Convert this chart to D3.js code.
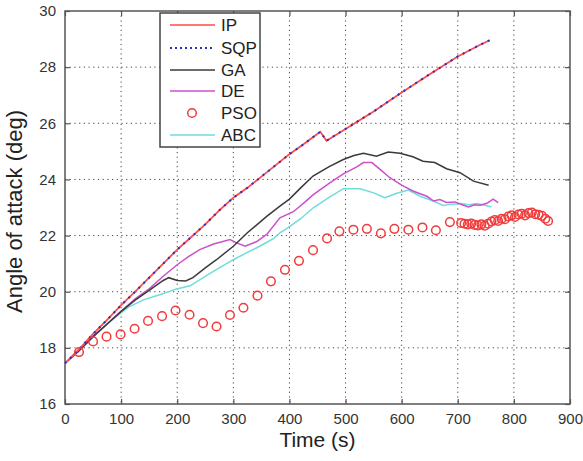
<!DOCTYPE html>
<html>
<head>
<meta charset="utf-8">
<script src="https://cdn.jsdelivr.net/npm/d3@7"></script>
<style>
  body { margin: 0; background: #fff; }
  svg { display: block; font-family: "Liberation Sans", Arial, sans-serif; }
</style>
</head>
<body>
<div id="chart"></div>
<script>
// series: time (s) and angle of attack (deg)
var ipTime  = [0, 25, 50, 75, 100, 125, 150, 175, 200, 225, 250, 275, 300, 325, 350, 375, 400, 425, 455, 466, 500, 550, 600, 650, 700, 740, 757];
var ipAngle = [17.45, 17.95, 18.5, 19.0, 19.52, 20.0, 20.5, 21.0, 21.5, 21.95, 22.4, 22.9, 23.35, 23.7, 24.1, 24.5, 24.9, 25.25, 25.7, 25.38, 25.8, 26.42, 27.1, 27.75, 28.38, 28.8, 28.96];

var sqpTime  = [0, 25, 50, 75, 100, 125, 150, 175, 200, 225, 250, 275, 300, 325, 350, 375, 400, 425, 455, 466, 500, 550, 600, 650, 700, 740, 757];
var sqpAngle = [17.45, 17.95, 18.5, 19.0, 19.52, 20.0, 20.5, 21.0, 21.5, 21.95, 22.4, 22.9, 23.35, 23.7, 24.1, 24.5, 24.9, 25.25, 25.7, 25.38, 25.8, 26.42, 27.1, 27.75, 28.38, 28.8, 28.96];

var gaTime  = [0, 25, 50, 75, 100, 125, 150, 175, 185, 200, 215, 228, 250, 270, 300, 325, 360, 383, 400, 420, 442, 470, 496, 515, 532, 555, 576, 597, 620, 638, 659, 680, 704, 728, 755];
var gaAngle = [17.45, 17.9, 18.4, 18.85, 19.3, 19.7, 20.05, 20.4, 20.5, 20.4, 20.38, 20.5, 20.85, 21.14, 21.62, 22.1, 22.69, 23.05, 23.3, 23.7, 24.12, 24.45, 24.71, 24.85, 24.93, 24.83, 24.98, 24.93, 24.81, 24.65, 24.6, 24.38, 24.24, 23.94, 23.79];

var deTime  = [0, 25, 50, 75, 100, 125, 150, 175, 200, 220, 240, 265, 294, 305, 321, 341, 360, 383, 407, 428, 442, 470, 496, 520, 532, 547, 562, 579, 600, 621, 645, 657, 668, 680, 695, 708, 719, 730, 740, 752, 763, 772];
var deAngle = [17.45, 17.9, 18.4, 18.85, 19.3, 19.75, 20.1, 20.55, 20.96, 21.25, 21.5, 21.7, 21.86, 21.75, 21.62, 21.78, 22.05, 22.63, 22.85, 23.2, 23.45, 23.85, 24.2, 24.45, 24.6, 24.6, 24.35, 24.06, 23.8, 23.58, 23.4, 23.23, 23.28, 23.18, 23.2, 23.1, 23.02, 23.1, 23.08, 23.15, 23.3, 23.17];

var abcTime  = [0, 25, 54, 84, 113, 140, 170, 199, 223, 252, 275, 300, 325, 347, 372, 383, 395, 420, 443, 470, 496, 526, 550, 570, 590, 612, 633, 656, 674, 690, 704, 720, 734, 748, 760];
var abcAngle = [17.45, 17.9, 18.46, 19.0, 19.45, 19.71, 19.9, 20.1, 20.21, 20.57, 20.85, 21.14, 21.4, 21.62, 21.9, 22.1, 22.25, 22.6, 23.0, 23.35, 23.67, 23.67, 23.52, 23.35, 23.5, 23.62, 23.4, 23.23, 23.07, 23.12, 23.14, 23.1, 23.14, 23.08, 23.02];

var psoTime  = [25, 50, 74, 99, 124, 148, 173, 197, 222, 246, 270, 294, 318, 343, 367, 392, 417, 442, 467, 489, 514, 538, 563, 587, 612, 637, 661, 686,
                706, 712, 718, 724, 730, 736, 742, 748, 754, 760, 766, 772, 778, 784, 790, 796, 802, 808, 814, 820, 826, 832, 838, 844, 850, 856, 861];
var psoAngle = [17.85, 18.23, 18.4, 18.48, 18.68, 18.96, 19.13, 19.33, 19.18, 18.88, 18.76, 19.17, 19.43, 19.86, 20.37, 20.78, 21.1, 21.48, 21.9, 22.15, 22.21, 22.24, 22.08, 22.24, 22.21, 22.29, 22.19, 22.48,
                22.45, 22.42, 22.4, 22.43, 22.38, 22.36, 22.4, 22.35, 22.42, 22.5, 22.55, 22.52, 22.6, 22.58, 22.68, 22.72, 22.66, 22.75, 22.78, 22.72, 22.8, 22.82, 22.76, 22.74, 22.7, 22.6, 22.52];

var xTicks = [0, 100, 200, 300, 400, 500, 600, 700, 800, 900];
var yTicks = [16, 18, 20, 22, 24, 26, 28, 30];
var legendNames = ["IP", "SQP", "GA", "DE", "PSO", "ABC"];

// set the dimensions and margins of the graph
var svgWidth = 583;
var svgHeight = 461;
var margin = { top: 11, right: 13, bottom: 57, left: 65 };
var width = svgWidth - margin.left - margin.right;
var height = svgHeight - margin.top - margin.bottom;

var svg = d3.select("#chart")
    .append("svg")
    .attr("width", svgWidth)
    .attr("height", svgHeight)
    .append("g")
    .attr("transform", "translate(" + margin.left + "," + margin.top + ")");

var x = d3.scaleLinear().domain([0, 900]).range([0, width]);
var y = d3.scaleLinear().domain([16, 30]).range([height, 0]);

var axisColor = "#555";

// dotted grid
svg.append("g")
    .selectAll("line")
    .data(xTicks.slice(1, -1))
    .enter()
    .append("line")
    .attr("x1", function (d) { return x(d); })
    .attr("x2", function (d) { return x(d); })
    .attr("y1", 0)
    .attr("y2", height)
    .attr("stroke", "#444")
    .attr("stroke-width", 1)
    .attr("stroke-dasharray", "1.2,3.5");

svg.append("g")
    .selectAll("line")
    .data(yTicks.slice(1, -1))
    .enter()
    .append("line")
    .attr("x1", 0)
    .attr("x2", width)
    .attr("y1", function (d) { return y(d); })
    .attr("y2", function (d) { return y(d); })
    .attr("stroke", "#444")
    .attr("stroke-width", 1)
    .attr("stroke-dasharray", "1.2,3.5");

// axes with inward ticks on all sides
function styleAxis(g) {
    g.select(".domain").remove();
    g.selectAll(".tick line").attr("stroke", axisColor).attr("stroke-width", 1.2);
    g.selectAll(".tick text")
        .attr("fill", "#333")
        .style("font-size", "15px")
        .style("font-family", "'Liberation Sans', Arial, sans-serif");
}

svg.append("g")
    .attr("transform", "translate(0," + height + ")")
    .call(d3.axisBottom(x).tickValues(xTicks).tickSize(-5).tickPadding(9))
    .call(styleAxis);

svg.append("g")
    .call(d3.axisTop(x).tickValues(xTicks).tickSize(-5).tickFormat(""))
    .call(styleAxis);

svg.append("g")
    .call(d3.axisLeft(y).tickValues(yTicks).tickSize(-5).tickPadding(9))
    .call(styleAxis);

svg.append("g")
    .attr("transform", "translate(" + width + ",0)")
    .call(d3.axisRight(y).tickValues(yTicks).tickSize(-5).tickFormat(""))
    .call(styleAxis);

// frame
svg.append("rect")
    .attr("width", width)
    .attr("height", height)
    .attr("fill", "none")
    .attr("stroke", axisColor)
    .attr("stroke-width", 1.5);

// axis titles
svg.append("text")
    .attr("x", width / 2)
    .attr("y", height + 43)
    .attr("text-anchor", "middle")
    .attr("fill", "#222")
    .style("font-size", "21px")
    .text("Time (s)");

svg.append("text")
    .attr("transform", "translate(" + (-43) + "," + (height / 2 + 4) + ") rotate(-90)")
    .attr("text-anchor", "middle")
    .attr("fill", "#222")
    .style("font-size", "22px")
    .text("Angle of attack (deg)");

// lines
function makeLine(t, a) {
    return d3.line()
        .x(function (d) { return x(t[d]); })
        .y(function (d) { return y(a[d]); })(d3.range(t.length));
}

var lines = svg.append("g");

lines.append("path")
    .attr("d", makeLine(abcTime, abcAngle))
    .attr("fill", "none").attr("stroke", "#6fdcdc").attr("stroke-width", 1.5);

lines.append("path")
    .attr("d", makeLine(deTime, deAngle))
    .attr("fill", "none").attr("stroke", "#cc4fcc").attr("stroke-width", 1.5);

lines.append("path")
    .attr("d", makeLine(gaTime, gaAngle))
    .attr("fill", "none").attr("stroke", "#3a3a3a").attr("stroke-width", 1.5);

lines.append("path")
    .attr("d", makeLine(ipTime, ipAngle))
    .attr("fill", "none").attr("stroke", "#ff4a4a").attr("stroke-width", 1.8);

lines.append("path")
    .attr("d", makeLine(sqpTime, sqpAngle))
    .attr("fill", "none").attr("stroke", "#2e2eb8").attr("stroke-width", 2)
    .attr("stroke-dasharray", "2,5");

// PSO circles
svg.append("g")
    .selectAll("circle")
    .data(d3.range(psoTime.length))
    .enter()
    .append("circle")
    .attr("cx", function (i) { return x(psoTime[i]); })
    .attr("cy", function (i) { return y(psoAngle[i]); })
    .attr("r", 4.3)
    .attr("fill", "none")
    .attr("stroke", "#f03c3c")
    .attr("stroke-width", 1.5);

// legend
var legend = svg.append("g")
    .attr("transform", "translate(" + 95 + "," + 2 + ")");

legend.append("rect")
    .attr("width", 100)
    .attr("height", 134)
    .attr("fill", "#fff")
    .attr("stroke", "#444")
    .attr("stroke-width", 1.5);

var legendY = [12, 35, 57, 78, 100, 122];
var legendColor = ["#ff4a4a", "#2e2eb8", "#3a3a3a", "#cc4fcc", "#f03c3c", "#6fdcdc"];

legendNames.forEach(function (name, i) {
    var row = legend.append("g").attr("transform", "translate(0," + legendY[i] + ")");
    if (name === "PSO") {
        row.append("circle")
            .attr("cx", 32).attr("cy", 0).attr("r", 4.3)
            .attr("fill", "none").attr("stroke", legendColor[i]).attr("stroke-width", 1.5);
    } else {
        row.append("line")
            .attr("x1", 10).attr("x2", 55)
            .attr("stroke", legendColor[i])
            .attr("stroke-width", name === "SQP" ? 2 : 1.5)
            .attr("stroke-dasharray", name === "SQP" ? "2,3" : null);
    }
    row.append("text")
        .attr("x", 61)
        .attr("y", 6)
        .attr("fill", "#222")
        .style("font-size", "17px")
        .text(name);
});
</script>
</body>
</html>
